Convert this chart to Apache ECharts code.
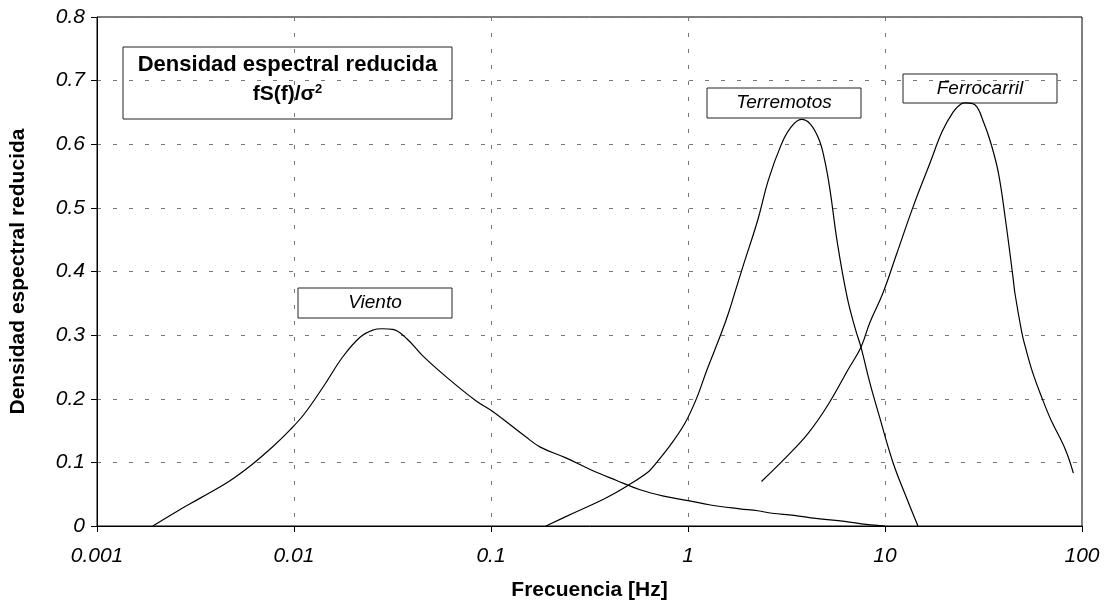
<!DOCTYPE html>
<html><head><meta charset="utf-8">
<script src="https://cdn.jsdelivr.net/npm/echarts@6/dist/echarts.min.js"></script>
<style>html,body{margin:0;padding:0;background:#fff}#c{width:1108px;height:607px}</style>
</head><body><div id="c"></div>
<script>
const xTickLabels = ['0.001', '0.01', '0.1', '1', '10', '100'];
const yTickLabels = ['0', '0.1', '0.2', '0.3', '0.4', '0.5', '0.6', '0.7', '0.8'];

const vientoF = [0.00192, 0.00253, 0.00339, 0.00473, 0.00608, 0.00782, 0.00955, 0.0114, 0.0143, 0.0177, 0.0217, 0.0252, 0.0280, 0.0317, 0.0375, 0.0452, 0.0605, 0.0845, 0.102, 0.149, 0.178, 0.240, 0.323, 0.434, 0.571, 0.752, 1.0, 1.30, 1.83, 2.26, 2.67, 3.45, 4.45, 6.24, 8.04, 10];
const vientoV = [0, 0.0225, 0.045, 0.0713, 0.096, 0.125, 0.151, 0.178, 0.222, 0.266, 0.297, 0.308, 0.310, 0.309, 0.294, 0.267, 0.232, 0.196, 0.180, 0.141, 0.124, 0.107, 0.088, 0.0716, 0.057, 0.047, 0.040, 0.033, 0.027, 0.024, 0.020, 0.0168, 0.012, 0.0074, 0.0026, 0];

const terremotosF = [0.190, 0.261, 0.381, 0.491, 0.632, 0.689, 0.817, 0.966, 1.10, 1.25, 1.48, 1.61, 1.71, 1.91, 2.26, 2.56, 2.97, 3.30, 3.76, 4.17, 4.63, 4.94, 5.26, 5.73, 6.44, 7.08, 7.55, 8.38, 9.31, 11.0, 12.8, 14.7];
const terremotosV = [0, 0.020, 0.0437, 0.063, 0.0858, 0.099, 0.128, 0.162, 0.199, 0.246, 0.304, 0.336, 0.362, 0.410, 0.481, 0.544, 0.599, 0.625, 0.639, 0.632, 0.607, 0.575, 0.528, 0.445, 0.358, 0.309, 0.281, 0.225, 0.175, 0.099, 0.046, 0];

const ferrocarrilF = [2.36, 3.17, 4.08, 5.15, 6.50, 7.55, 8.38, 9.73, 11.5, 13.9, 16.9, 19.5, 22.2, 24.2, 25.7, 28.6, 31.8, 34.6, 37.7, 40.9, 44.6, 45.7, 49.5, 51.6, 56.2, 62.5, 69.5, 82.4, 90.4];
const ferrocarrilV = [0.070, 0.109, 0.146, 0.191, 0.246, 0.281, 0.320, 0.365, 0.429, 0.502, 0.570, 0.620, 0.651, 0.663, 0.665, 0.662, 0.633, 0.600, 0.554, 0.481, 0.392, 0.365, 0.304, 0.281, 0.241, 0.202, 0.167, 0.120, 0.083];

const seriesNames = ['Viento', 'Terremotos', 'Ferrocarril'];
const FONT = 'Liberation Sans, Arial, sans-serif';

function zip(a, b) { return a.map((v, i) => [v, b[i]]); }

const chart = echarts.init(document.getElementById('c'), null, { renderer: 'canvas' });

function boxLabel(x, y, w, h, text) {
  return {
    type: 'group', x: x, y: y,
    children: [
      { type: 'rect', shape: { x: 0, y: 0, width: w, height: h }, style: { fill: '#fff', stroke: '#222', lineWidth: 1 } },
      { type: 'text', x: w / 2, y: h / 2, style: { text: text, font: 'italic 19px ' + FONT, fill: '#000', align: 'center', verticalAlign: 'middle' } }
    ]
  };
}

const lineStyle = { color: '#000', width: 1.2 };
chart.setOption({
  animation: false,
  backgroundColor: '#fff',
  grid: { left: 96, right: 26, top: 17, bottom: 81, show: true, borderColor: '#000', borderWidth: 1, backgroundColor: 'transparent' },
  xAxis: {
    type: 'log', logBase: 10, min: 0.001, max: 100,
    name: 'Frecuencia [Hz]', nameLocation: 'middle', nameGap: 54,
    nameTextStyle: { fontFamily: FONT, fontWeight: 'bold', fontSize: 21, color: '#000' },
    axisLine: { show: true, lineStyle: { color: '#000', width: 1 } },
    axisTick: { show: true, inside: false, length: 6, lineStyle: { color: '#000' } },
    minorTick: { show: false }, minorSplitLine: { show: false },
    splitLine: { show: true, lineStyle: { color: '#777', type: [4, 12], width: 1 } },
    axisLabel: {
      fontFamily: FONT, fontStyle: 'italic', fontSize: 21, color: '#000', margin: 20,
      formatter: function (v) {
        const i = Math.round(Math.log10(v)) + 3;
        return xTickLabels[i] !== undefined ? xTickLabels[i] : '';
      }
    }
  },
  yAxis: {
    type: 'value', min: 0, max: 0.8, interval: 0.1,
    name: 'Densidad espectral reducida', nameLocation: 'middle', nameGap: 68,
    nameTextStyle: { fontFamily: FONT, fontWeight: 'bold', fontSize: 21, color: '#000' },
    axisLine: { show: true, lineStyle: { color: '#000', width: 1 } },
    axisTick: { show: true, inside: false, length: 6, lineStyle: { color: '#000' } },
    splitLine: { show: true, lineStyle: { color: '#777', type: [4, 12], width: 1 } },
    axisLabel: {
      fontFamily: FONT, fontStyle: 'italic', fontSize: 21, color: '#000', margin: 12,
      formatter: function (v) {
        const i = Math.round(v * 10);
        return yTickLabels[i] !== undefined ? yTickLabels[i] : '';
      }
    }
  },
  series: [
    { name: seriesNames[0], type: 'line', data: zip(vientoF, vientoV), showSymbol: false, symbol: 'none', smooth: 0.4, lineStyle: lineStyle },
    { name: seriesNames[1], type: 'line', data: zip(terremotosF, terremotosV), showSymbol: false, symbol: 'none', smooth: 0.4, lineStyle: lineStyle },
    { name: seriesNames[2], type: 'line', data: zip(ferrocarrilF, ferrocarrilV), showSymbol: false, symbol: 'none', smooth: 0.4, lineStyle: lineStyle }
  ],
  graphic: [
    {
      type: 'group', x: 123, y: 47,
      children: [
        { type: 'rect', shape: { x: 0, y: 0, width: 329, height: 72 }, style: { fill: '#fff', stroke: '#222', lineWidth: 1 } },
        { type: 'text', x: 164.5, y: 18, style: { text: 'Densidad espectral reducida', font: 'bold 22px ' + FONT, fill: '#000', align: 'center', verticalAlign: 'middle' } },
        { type: 'text', x: 164.5, y: 47, style: {
            text: '{m|fS(f)/σ}{s|2}', align: 'center', verticalAlign: 'middle',
            rich: {
              m: { fontFamily: FONT, fontWeight: 'bold', fontSize: 21, color: '#000', lineHeight: 22 },
              s: { fontFamily: FONT, fontWeight: 'bold', fontSize: 13, color: '#000', verticalAlign: 'top', lineHeight: 12 }
            }
        } }
      ]
    },
    boxLabel(298, 288, 154, 30, seriesNames[0]),
    boxLabel(707, 88, 154, 30, seriesNames[1]),
    boxLabel(903, 74, 154, 29, seriesNames[2])
  ]
});
</script>
</body></html>
